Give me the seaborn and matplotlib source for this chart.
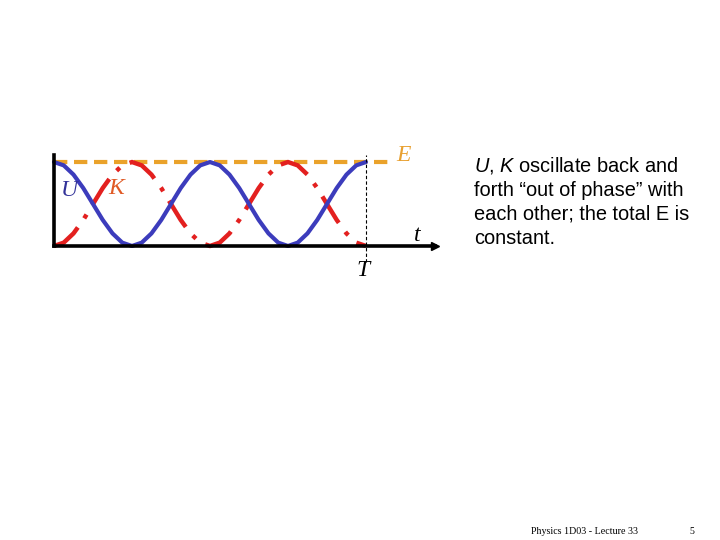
import numpy as np
import pandas as pd
import seaborn as sns
import matplotlib.pyplot as plt

sns.set_style('white')
plt.rcParams['font.family'] = ['Liberation Sans', 'DejaVu Sans']
plt.rcParams['mathtext.fontset'] = 'custom'
plt.rcParams['mathtext.it'] = 'Liberation Sans:italic'
plt.rcParams['mathtext.rm'] = 'Liberation Sans'

# tempo em frações de T (33 amostras)
t = np.linspace(0, 1, 33)
# energia potencial U (2 oscilações em T)
U = [1, 0.96, 0.85, 0.69, 0.5, 0.31, 0.15, 0.04, 0,
     0.04, 0.15, 0.31, 0.5, 0.69, 0.85, 0.96, 1,
     0.96, 0.85, 0.69, 0.5, 0.31, 0.15, 0.04, 0,
     0.04, 0.15, 0.31, 0.5, 0.69, 0.85, 0.96, 1]
# energia cinética K
K = [0, 0.04, 0.15, 0.31, 0.5, 0.69, 0.85, 0.96, 1,
     0.96, 0.85, 0.69, 0.5, 0.31, 0.15, 0.04, 0,
     0.04, 0.15, 0.31, 0.5, 0.69, 0.85, 0.96, 1,
     0.96, 0.85, 0.69, 0.5, 0.31, 0.15, 0.04, 0]
# energia total E
E_t = [0, 1.08]
E = [1, 1]

df = pd.DataFrame({'t': t, 'U': U, 'K': K})
df_E = pd.DataFrame({'t': E_t, 'E': E})

fig = plt.figure(figsize=(7.2, 5.4), dpi=100)
ax = fig.add_axes([54/720, 1-246/540, 380.6/720, 90.7/540])

sns.lineplot(data=df_E, x='t', y='E', ax=ax, color='#eaa22a', lw=3, clip_on=False)
ax.lines[-1].set_dashes((3.2, 1.6))
sns.lineplot(data=df, x='t', y='K', ax=ax, color='#e3201f', lw=3.2, clip_on=False)
ax.lines[-1].set_dashes((7, 2.5, 1, 2.5))
sns.lineplot(data=df, x='t', y='U', ax=ax, color='#3c3cbc', lw=3, clip_on=False)

# linha vertical em T
ax.plot([1, 1], [-0.19, 1.08], color='black', lw=0.8, ls=(0, (3, 2)), clip_on=False)

ax.set_xlim(0, 1.22)
ax.set_ylim(0, 1.08)
ax.set_xticks([])
ax.set_yticks([])
ax.set_xlabel('')
ax.set_ylabel('')
for s in ['top', 'right']:
    ax.spines[s].set_visible(False)
for s in ['left', 'bottom']:
    ax.spines[s].set_color('black')
    ax.spines[s].set_linewidth(2.6)
ax.plot(1.22, 0, marker='>', color='black', markersize=6, clip_on=False)

serif = dict(family='Liberation Serif', style='italic', ha='center', va='center',
             fontsize=17)
ax.text(0.048, 0.655, 'U', color='#333399', **serif)
ax.text(0.2, 0.68, 'K', color='#e05a25', **serif)
ax.text(1.12, 1.08, 'E', color='#e8a030', **serif)
ax.text(1.163, 0.13, 't', color='black', **serif)
ax.text(0.99, -0.29, 'T', color='black', **serif)

linhas = [r'$U$, $K$ oscillate back and',
          'forth \u201cout of phase\u201d with',
          'each other; the total E is',
          'constant.']
for i, linha in enumerate(linhas):
    fig.text(474/720, 1-(166+24*i)/540, linha, fontsize=14.4, va='center', ha='left',
             color='black')

fig.text(531/720, 1-531/540, 'Physics 1D03 - Lecture 33', family='Liberation Serif',
         fontsize=7.2, va='center', ha='left', color='black')
fig.text(692/720, 1-531/540, '5', family='Liberation Serif',
         fontsize=7.2, va='center', ha='center', color='black')

fig.savefig('out.png', dpi=100)
